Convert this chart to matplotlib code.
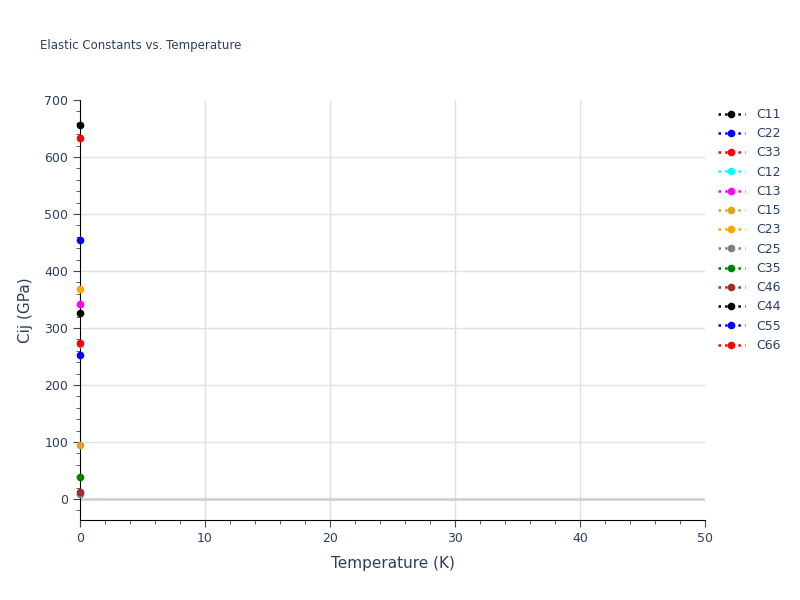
import numpy as np
import matplotlib
matplotlib.use('Agg')
import matplotlib.pyplot as plt
from matplotlib.ticker import MultipleLocator

# elastic constants at T = 0 K
names = ['C11', 'C22', 'C33', 'C12', 'C13', 'C15', 'C23', 'C25', 'C35', 'C46', 'C44', 'C55', 'C66']
colors = ['black', 'blue', 'red', 'cyan', 'magenta', 'goldenrod', 'orange', 'gray', 'green', 'brown', 'black', 'blue', 'red']
temps = [0]
values = [657, 455, 634, 272, 342, 94, 368, 8, 39, 12, 327, 253, 274]

txt = '#2a3f5f'
fig = plt.figure(figsize=(8, 6), dpi=100)
ax = fig.add_axes([0.1, 0.1333, 0.78125, 0.7])

for n, c, v in zip(names, colors, values):
    ax.plot(temps, [v], linestyle=':', color=c, marker='o', markersize=4.5,
            linewidth=1.8, label=n, clip_on=False, zorder=5)

ax.set_xlim(0, 50)
ax.set_ylim(-36.8, 700)
ax.xaxis.set_major_locator(MultipleLocator(10))
ax.xaxis.set_minor_locator(MultipleLocator(2))
ax.yaxis.set_major_locator(MultipleLocator(100))
ax.yaxis.set_minor_locator(MultipleLocator(20))

# grid lines by hand so the edges stay clear
for gx in [10, 20, 30, 40]:
    ax.axvline(gx, color='#e0e0e0', linewidth=1, zorder=0)
for gy in [100, 200, 300, 400, 500, 600]:
    ax.axhline(gy, color='#e0e0e0', linewidth=1, zorder=0)
ax.axhline(0, color='#d0d0d0', linewidth=2, zorder=1)

for s in ['top', 'right']:
    ax.spines[s].set_visible(False)
for s in ['left', 'bottom']:
    ax.spines[s].set_color('black')

ax.tick_params(which='major', length=5, color='#444444', labelsize=9, labelcolor=txt)
ax.tick_params(which='minor', length=3, color='#444444')

ax.set_xlabel('Temperature (K)', fontsize=11, color=txt, labelpad=8)
ax.set_ylabel('Cij (GPa)', fontsize=11, color=txt, labelpad=8)
fig.text(0.05, 0.918, 'Elastic Constants vs. Temperature', fontsize=8.5, color=txt)

leg = ax.legend(loc='upper left', bbox_to_anchor=(1.012, 0.993), frameon=False,
                fontsize=9, labelspacing=0.5, handlelength=2.2, handletextpad=0.9,
                borderaxespad=0)
for t in leg.get_texts():
    t.set_color(txt)

fig.savefig('out.png', dpi=100)
